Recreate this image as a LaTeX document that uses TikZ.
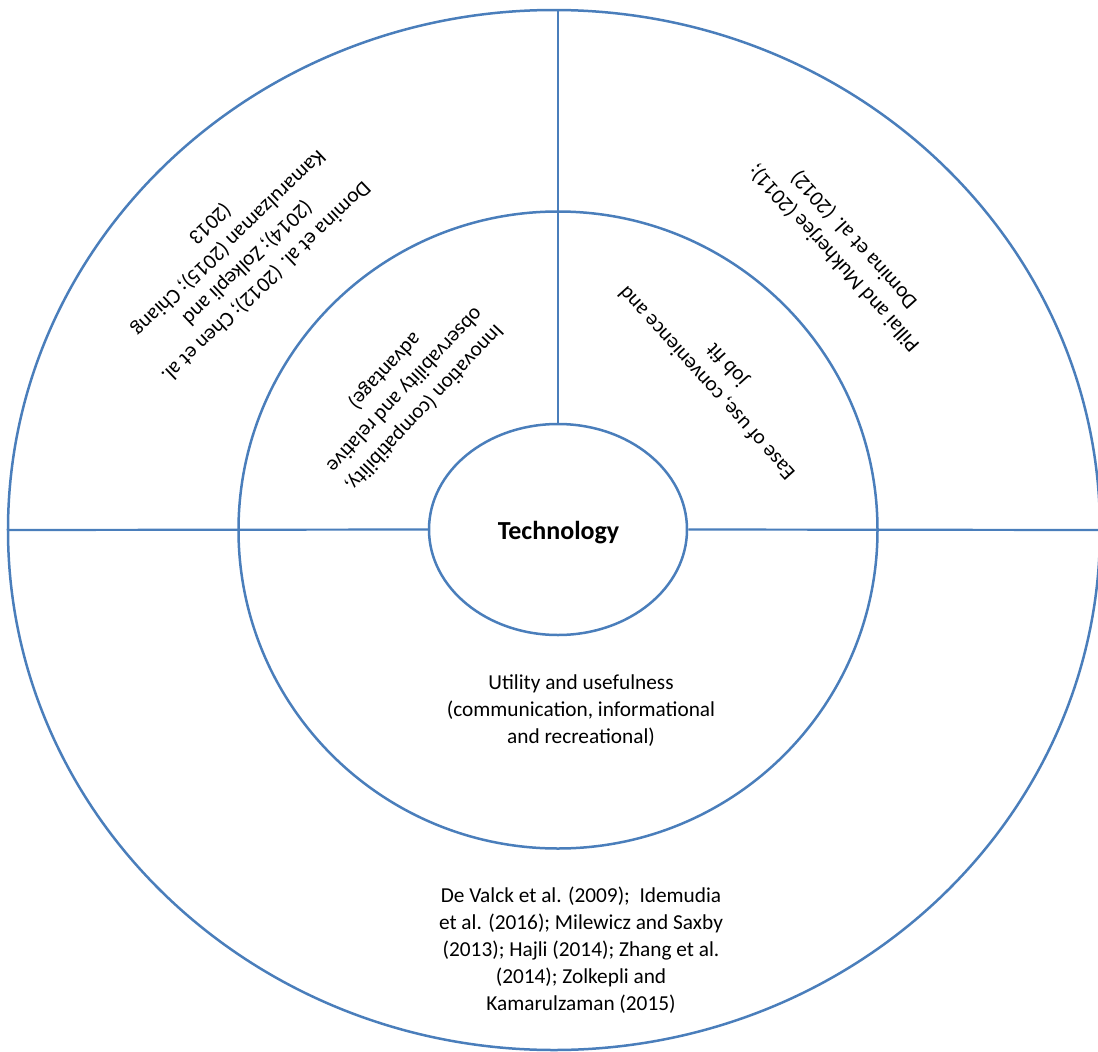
\documentclass[tikz,border=0pt]{standalone}
\usepackage{fontspec}
\setmainfont{Carlito}
\usetikzlibrary{shapes.geometric}
\definecolor{ringblue}{HTML}{4A7EBB}
\begin{document}
\begin{tikzpicture}[x=1pt,y=-1pt,
  ring/.style={draw=ringblue, line width=2.5pt, ellipse, inner sep=0pt},
  link/.style={draw=ringblue, line width=2.2pt},
  lbl/.style={font=\fontsize{21.3}{27}\selectfont, align=center, inner sep=0pt, text=black}]
\useasboundingbox (0,0) rectangle (1098,1052);
\clip (0,0) rectangle (1098,1052);
\node[ring, minimum width=1092pt, minimum height=1040pt] (outer) at (554,530) {};
\node[ring, minimum width=639pt, minimum height=637pt] (mid) at (558,530) {};
\node[ring, minimum width=258pt, minimum height=211pt] (tech) at (558,529.5) {};
\node[anchor=base, inner sep=0pt, font=\bfseries\fontsize{26}{30}\selectfont] (techlabel) at (558.5,539) {Technology};
\draw[link] (tech.north) -- (tech.north |- outer.north);
\draw[link] (outer.west) -- (tech.west);
\draw[link] (tech.east) -- (outer.east);
\node[lbl, rotate=223.7] (refA) at (238,253) {Domina et al. (2012); Chen et al.\\(2014); Zolkepli and\\Kamarulzaman (2015); Chiang\\(2013};
\node[lbl, rotate=132] (refB) at (844,249) {Pillai and Mukherjee (2011);\\Domina et al. (2012)};
\node[lbl, rotate=226.8] (innov) at (404.5,389.5) {Innovation (compatibility,\\observability and relative\\advantage)};
\node[lbl, rotate=132] (ease) at (717.5,373.5) {Ease of use, convenience and\\job fit};
\node[lbl] (util) at (581,711) {Utility and usefulness\\(communication, informational\\and recreational)};
\node[lbl] (refC) at (581,950) {De Valck et al. (2009);\ \ Idemudia\\et al. (2016); Milewicz and Saxby\\(2013); Hajli (2014); Zhang et al.\\(2014); Zolkepli and\\Kamarulzaman (2015)};
\end{tikzpicture}
\end{document}
